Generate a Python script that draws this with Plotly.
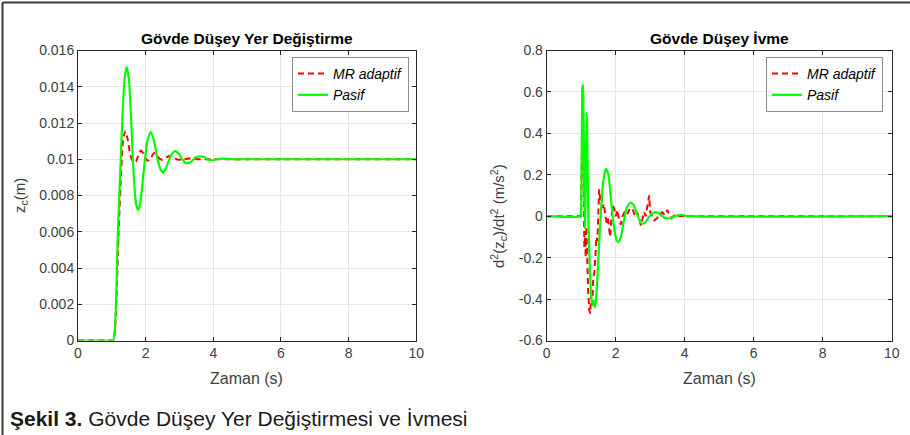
import plotly.graph_objects as go

W, H = 910, 435

# ---------------- data ----------------
# Left: body vertical displacement z_c (m)
t_disp_mr = [0, 1.0, 1.05, 1.2, 1.33, 1.40, 1.47, 1.55, 1.64, 1.72, 1.80, 1.86, 1.94, 2.02,
             2.08, 2.16, 2.25, 2.33, 2.42, 2.50, 2.60, 2.72, 2.82, 2.95, 3.1, 3.3, 3.5, 4.0, 10]
z_mr = [0, 0, 0.0, 0.0060, 0.0110, 0.01155, 0.0111, 0.0102, 0.00985, 0.0099, 0.0103, 0.01048,
        0.0103, 0.00998, 0.00993, 0.0101, 0.01035, 0.0102, 0.01002, 0.00998, 0.0101, 0.0102,
        0.0101, 0.00998, 0.0100, 0.01004, 0.0100, 0.0100, 0.0100]

t_disp_pas = [0, 1.0, 1.05, 1.18, 1.31, 1.38, 1.44, 1.51, 1.58, 1.65, 1.72, 1.78, 1.85, 1.95,
              2.05, 2.15, 2.25, 2.35, 2.45, 2.52, 2.62, 2.72, 2.82, 2.89, 2.98, 3.08, 3.18,
              3.27, 3.37, 3.47, 3.56, 3.64, 3.75, 3.85, 3.95, 4.1, 4.3, 4.6, 5.0, 10]
z_pas = [0, 0, 0.0, 0.0060, 0.0122, 0.0145, 0.0151, 0.0143, 0.0118, 0.0090, 0.0075, 0.0072,
         0.0077, 0.0095, 0.0110, 0.0115, 0.0110, 0.0100, 0.0094, 0.00925, 0.0096, 0.0101,
         0.0104, 0.01045, 0.0103, 0.0100, 0.0098, 0.0098, 0.0099, 0.0101, 0.01015, 0.01016,
         0.0101, 0.00998, 0.00994, 0.0100, 0.01004, 0.0100, 0.0100, 0.0100]

# Right: body vertical acceleration (m/s^2)
t_acc_mr = [0, 0.99, 1.0, 1.03, 1.045, 1.07, 1.09, 1.11, 1.13, 1.15, 1.17, 1.2, 1.23, 1.26,
            1.29, 1.32, 1.35, 1.38, 1.41, 1.44, 1.47, 1.5, 1.52, 1.55, 1.58, 1.62, 1.66, 1.7,
            1.74, 1.77, 1.8, 1.84, 1.87, 1.91, 1.95, 2.0, 2.05, 2.1, 2.15, 2.2, 2.28, 2.35,
            2.42, 2.5, 2.56, 2.62, 2.68, 2.73, 2.78, 2.82, 2.87, 2.93, 2.97, 3.0, 3.05, 3.12,
            3.2, 3.28, 3.35, 3.42, 3.5, 3.56, 3.62, 3.7, 3.8, 10]
a_mr = [0, 0, 0.02, 0.6, 0.63, 0.3, -0.15, -0.1, -0.2, -0.05, -0.2, -0.35, -0.45, -0.47,
        -0.38, -0.42, -0.3, -0.27, -0.2, -0.1, -0.12, 0.05, 0.13, 0.08, 0.1, 0.04, 0.06, 0.0,
        -0.03, -0.01, -0.06, -0.1, -0.02, 0.05, 0.04, 0.0, 0.03, -0.02, -0.04, 0.0, 0.03,
        0.015, 0.04, 0.03, 0.0, 0.02, -0.01, -0.045, -0.01, 0.02, 0.0, 0.05, 0.1, 0.02, 0.0,
        -0.02, -0.01, 0.01, 0.02, 0.005, 0.03, 0.0, -0.01, 0.005, 0.0, 0.0]

t_acc_pas = [0, 0.99, 1.0, 1.03, 1.045, 1.06, 1.09, 1.11, 1.13, 1.155, 1.17, 1.2, 1.25, 1.3,
             1.34, 1.37, 1.40, 1.44, 1.5, 1.57, 1.64, 1.72, 1.79, 1.87, 1.95, 2.02, 2.08,
             2.15, 2.24, 2.33, 2.43, 2.52, 2.62, 2.72, 2.8, 2.9, 3.0, 3.1, 3.18, 3.28, 3.4,
             3.53, 3.65, 3.8, 3.92, 4.1, 10]
a_pas = [0, 0, 0.02, 0.6, 0.635, 0.6, 0.1, -0.06, 0.2, 0.5, 0.45, 0.05, -0.25, -0.40, -0.43,
         -0.41, -0.44, -0.38, -0.2, 0.02, 0.17, 0.23, 0.2, 0.07, -0.05, -0.115, -0.125, -0.1,
         -0.02, 0.045, 0.066, 0.055, 0.01, -0.03, -0.036, -0.02, 0.005, 0.018, 0.02, 0.01,
         -0.006, -0.011, -0.005, 0.004, 0.006, 0.0, 0.0]

disp_ticks = [0, 0.002, 0.004, 0.006, 0.008, 0.01, 0.012, 0.014, 0.016]
disp_labels = ["0", "0.002", "0.004", "0.006", "0.008", "0.01", "0.012", "0.014", "0.016"]
acc_ticks = [-0.6, -0.4, -0.2, 0, 0.2, 0.4, 0.6, 0.8]
acc_labels = ["-0.6", "-0.4", "-0.2", "0", "0.2", "0.4", "0.6", "0.8"]
x_ticks = [0, 2, 4, 6, 8, 10]
x_labels = ["0", "2", "4", "6", "8", "10"]

names = ["MR adaptif", "Pasif"]
titles = ["Gövde Düşey Yer Değiştirme", "Gövde Düşey İvme"]
xtitle = "Zaman (s)"
ytitles = ["z<sub>c</sub>(m)", "d<sup>2</sup>(z<sub>c</sub>)/dt<sup>2</sup> (m/s<sup>2</sup>)"]
caption = "<b>Şekil 3.</b> Gövde Düşey Yer Değiştirmesi ve İvmesi"

RED = "#FF0000"
GREEN = "#00FF00"
FONT = "Liberation Sans, Arial, sans-serif"
AXC = "#262626"
TXC = "#404040"


def px(x):
    return x / W


def py(y):
    return 1 - y / H


fig = go.Figure()

fig.add_trace(go.Scatter(x=t_disp_mr, y=z_mr, name=names[0], mode="lines",
                         line=dict(color=RED, width=2, dash="6px,4px", shape="spline", smoothing=0.6),
                         xaxis="x", yaxis="y", legend="legend"))
fig.add_trace(go.Scatter(x=t_disp_pas, y=z_pas, name=names[1], mode="lines",
                         line=dict(color=GREEN, width=2.2, shape="spline", smoothing=0.6),
                         xaxis="x", yaxis="y", legend="legend"))
fig.add_trace(go.Scatter(x=t_acc_mr, y=a_mr, name=names[0], mode="lines",
                         line=dict(color=RED, width=2, dash="6px,4px"),
                         xaxis="x2", yaxis="y2", legend="legend2"))
fig.add_trace(go.Scatter(x=t_acc_pas, y=a_pas, name=names[1], mode="lines",
                         line=dict(color=GREEN, width=2.2, shape="spline", smoothing=0.5),
                         xaxis="x2", yaxis="y2", legend="legend2"))

ydom = [py(340.5), py(50.5)]
axis_common = dict(showgrid=True, gridcolor="#E6E6E6", gridwidth=1, ticks="inside", ticklen=4,
                   tickcolor=AXC, showline=True, linecolor=AXC, linewidth=1, mirror="ticks",
                   zeroline=False, tickfont=dict(family=FONT, size=14, color=TXC),
                   fixedrange=True, automargin=False)

legend_common = dict(xanchor="right", yanchor="top", bgcolor="white",
                     bordercolor="#8C8C8C", borderwidth=1, tracegroupgap=0, itemwidth=30,
                     font=dict(family=FONT, size=14, color="#000000", style="italic"))

fig.update_layout(
    width=W, height=H, autosize=False, margin=dict(l=0, r=0, t=0, b=0, pad=0),
    paper_bgcolor="white", plot_bgcolor="white",
    font=dict(family=FONT, color=TXC),
    xaxis=dict(domain=[px(78), px(416.3)], range=[0, 10], tickvals=x_ticks, ticktext=x_labels,
               anchor="y", **axis_common),
    yaxis=dict(domain=ydom, range=[0, 0.016], tickvals=disp_ticks, ticktext=disp_labels,
               anchor="x", **axis_common),
    xaxis2=dict(domain=[px(546.7), px(891.7)], range=[0, 10], tickvals=x_ticks, ticktext=x_labels,
                anchor="y2", **axis_common),
    yaxis2=dict(domain=ydom, range=[-0.6, 0.8], tickvals=acc_ticks, ticktext=acc_labels,
                anchor="x2", **axis_common),
    legend=dict(x=px(409), y=py(57), **legend_common),
    legend2=dict(x=px(883), y=py(57), **legend_common),
    showlegend=True,
)

ann = []
for cx, t in zip([247, 719], titles):
    ann.append(dict(x=px(cx), y=py(38), xref="paper", yref="paper", text="<b>%s</b>" % t,
                    showarrow=False, xanchor="center", yanchor="middle",
                    font=dict(family=FONT, size=15.5, color="#000000")))
for cx in [247, 719]:
    ann.append(dict(x=px(cx), y=py(378), xref="paper", yref="paper", text=xtitle,
                    showarrow=False, xanchor="center", yanchor="middle",
                    font=dict(family=FONT, size=16, color=TXC)))
ann.append(dict(x=px(21), y=py(196), xref="paper", yref="paper", text=ytitles[0], textangle=-90,
                showarrow=False, xanchor="center", yanchor="middle",
                font=dict(family=FONT, size=15, color=TXC)))
ann.append(dict(x=px(498), y=py(216), xref="paper", yref="paper", text=ytitles[1], textangle=-90,
                showarrow=False, xanchor="center", yanchor="middle",
                font=dict(family=FONT, size=15, color=TXC)))
ann.append(dict(x=px(8), y=py(418), xref="paper", yref="paper", text=caption,
                showarrow=False, xanchor="left", yanchor="middle",
                font=dict(family=FONT, size=21, color="#1A1A1A")))
fig.update_layout(annotations=ann)

# outer frame of the figure (top and left edges)
fig.add_shape(type="line", xref="paper", yref="paper", x0=px(2.5), y0=0, x1=px(2.5), y1=py(2.5),
              line=dict(color="#3A3A3A", width=2))
fig.add_shape(type="line", xref="paper", yref="paper", x0=px(2.5), y0=py(2.5), x1=1, y1=py(2.5),
              line=dict(color="#3A3A3A", width=2))

fig.write_html(
    "out.html",
    config={"displayModeBar": False, "displaylogo": False},
    post_script="document.body.style.margin='0';document.body.style.padding='0';"
                "document.documentElement.style.overflow='hidden';",
)
